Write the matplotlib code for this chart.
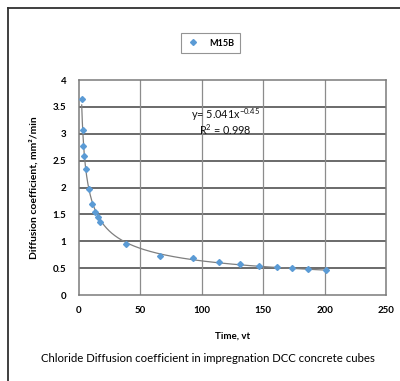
import numpy as np
import matplotlib
matplotlib.use("Agg")
import matplotlib.pyplot as plt
from matplotlib.lines import Line2D

plt.rcParams['font.family'] = ['Lato', 'DejaVu Sans']
plt.rcParams['mathtext.fontset'] = 'custom'
plt.rcParams['mathtext.rm'] = 'Lato'
plt.rcParams['mathtext.it'] = 'Lato'

# measured diffusion coefficient against square root of time
sqrt_time = [2.2, 3.0, 3.5, 4.3, 5.4, 7.9, 10.9, 13.3, 15.5, 17.1,
             38.0, 66.0, 92.6, 113.7, 131.4, 146.6, 161.2, 173.7, 186.2, 201.2]
diff_coef = [3.65, 3.07, 2.78, 2.59, 2.34, 1.98, 1.69, 1.54, 1.45, 1.36,
             0.94, 0.73, 0.69, 0.61, 0.57, 0.54, 0.53, 0.50, 0.49, 0.47]
series_name = "M15B"

# power trend line
fit_a = 5.041
fit_b = -0.45
fit_r2 = 0.998

x_ticks = [0, 50, 100, 150, 200, 250]
y_ticks = [0, 0.5, 1, 1.5, 2, 2.5, 3, 3.5, 4]

fig = plt.figure(figsize=(4.0, 3.81), dpi=100)
ax = fig.add_axes([0.1975, 0.2257, 0.7675, 0.5643])

# horizontal grid drawn darker than vertical grid
for yv in y_ticks[1:-1]:
    ax.axhline(yv, color='#6a6a6a', lw=1.4, zorder=1)
for xv in x_ticks[1:-1]:
    ax.axvline(xv, color='#8c8c8c', lw=0.9, zorder=1)

xs = np.linspace(min(sqrt_time), max(sqrt_time), 400)
ax.plot(xs, fit_a * xs ** fit_b, color='#7f7f7f', lw=0.9, zorder=2)
ax.plot(sqrt_time, diff_coef, linestyle='none', marker='D', ms=3.0,
        color='#5b9bd5', zorder=3)

ax.set_xlim(0, 250)
ax.set_ylim(0, 4)
ax.set_xticks(x_ticks)
ax.set_yticks(y_ticks)
ax.set_yticklabels(['0', '0.5', '1', '1.5', '2', '2.5', '3', '3.5', '4'])
ax.tick_params(length=0, labelsize=7, pad=8)
ax.tick_params(axis='y', pad=9)
for lab in ax.get_xticklabels() + ax.get_yticklabels():
    lab.set_fontweight('bold')
for sp in ax.spines.values():
    sp.set_color('#7a7a7a')
    sp.set_linewidth(1.1)

ax.set_xlabel('Time, vt', fontsize=7, fontweight='bold', labelpad=12)
ax.set_ylabel('Diffusion coefficient, mm\u00b2/min', fontsize=7.5,
              fontweight='bold', labelpad=10)

ax.text(119, 3.35, f'y= {fit_a}x$^{{{fit_b}}}$', fontsize=7.8,
        ha='center', va='center', color='#111111')
ax.text(119, 3.07, f'R$^2$ = {fit_r2}', fontsize=7.8,
        ha='center', va='center', color='#111111')

handle = Line2D([], [], linestyle='none', marker='D', ms=3.0, color='#5b9bd5')
leg = fig.legend([handle], [series_name], loc='center',
                 bbox_to_anchor=(0.526, 0.887), fontsize=6.5, frameon=True,
                 fancybox=False, edgecolor='#7a7a7a', borderpad=0.6,
                 handlelength=1.5, handletextpad=1.0)
leg.get_frame().set_linewidth(0.8)
for t in leg.get_texts():
    t.set_fontweight('bold')

fig.text(0.52, 0.06, 'Chloride Diffusion coefficient in impregnation DCC concrete cubes',
         fontsize=8.2, ha='center', va='center')

# outer frame: left and top edges
fig.add_artist(Line2D([0.021, 0.021], [0.0, 0.979], color='#303030', lw=1.3))
fig.add_artist(Line2D([0.021, 1.0], [0.979, 0.979], color='#303030', lw=1.3))

fig.savefig('out.png', dpi=100)
